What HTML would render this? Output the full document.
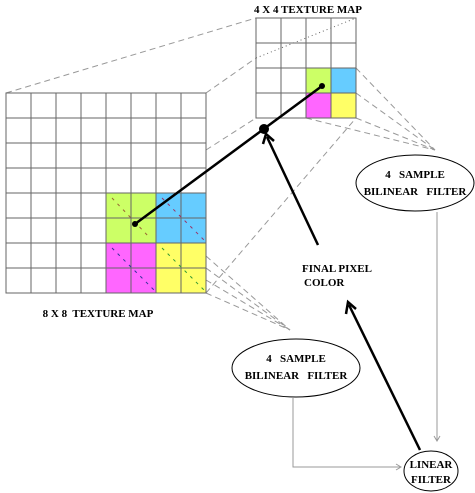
<!DOCTYPE html>
<html><head><meta charset="utf-8"><style>
body{margin:0;background:#fff}
svg{display:block}
text{font-family:"Liberation Serif",serif;font-weight:bold;font-size:11px;fill:#000;white-space:pre}
</style></head><body>
<svg width="475" height="493">
<g stroke="#999" stroke-dasharray="6,4" fill="none">
<line x1="6" y1="93" x2="256" y2="18"/>
<line x1="206" y1="93" x2="256" y2="58"/>
<line x1="206" y1="150" x2="256" y2="118"/>
<line x1="206" y1="293" x2="356" y2="118"/>
<line x1="206" y1="293" x2="290" y2="330"/>
<line x1="206" y1="280" x2="290" y2="330"/>
<line x1="206" y1="268" x2="290" y2="330"/>
<line x1="206" y1="256" x2="290" y2="330"/>
<line x1="356" y1="68" x2="435" y2="150"/>
<line x1="356" y1="93" x2="435" y2="150"/>
<line x1="356" y1="118" x2="435" y2="150"/>
<line x1="306" y1="118" x2="435" y2="150"/>
</g>
<line x1="256" y1="58" x2="356" y2="18" stroke="#666" stroke-dasharray="1,3"/>
<g>
<rect x="106" y="193" width="50" height="50" fill="#ccff66"/>
<rect x="156" y="193" width="50" height="50" fill="#66ccff"/>
<rect x="106" y="243" width="50" height="50" fill="#ff66ff"/>
<rect x="156" y="243" width="50" height="50" fill="#ffff66"/>
<g stroke="#666" fill="none">
<rect x="6" y="93" width="200" height="200"/>
<path d="M31 93V293M56 93V293M81 93V293M106 93V293M131 93V293M156 93V293M181 93V293M6 118H206M6 143H206M6 168H206M6 193H206M6 218H206M6 243H206M6 268H206"/>
</g>
<g stroke-dasharray="3,5" fill="none">
<line x1="112" y1="198" x2="150" y2="238" stroke="#996633"/>
<line x1="162" y1="198" x2="204" y2="240" stroke="#993366"/>
<line x1="112" y1="248" x2="154" y2="290" stroke="#333399"/>
<line x1="162" y1="248" x2="204" y2="290" stroke="#339933"/>
</g>
</g>
<g>
<rect x="306" y="68" width="25" height="25" fill="#ccff66"/>
<rect x="331" y="68" width="25" height="25" fill="#66ccff"/>
<rect x="306" y="93" width="25" height="25" fill="#ff66ff"/>
<rect x="331" y="93" width="25" height="25" fill="#ffff66"/>
<g stroke="#666" fill="none">
<rect x="256" y="18" width="100" height="100"/>
<path d="M281 18V118M306 18V118M331 18V118M256 43H356M256 68H356M256 93H356"/>
</g>
</g>
<text x="98" y="317" text-anchor="middle">8 X 8  TEXTURE MAP</text>
<text x="308" y="13" text-anchor="middle">4 X 4 TEXTURE MAP</text>
<g stroke="#000" stroke-width="2.5" fill="none">
<line x1="135" y1="224" x2="322" y2="86"/>
<line x1="318" y1="245" x2="267" y2="137"/>
<path d="M263 144 L266 134 L274 141"/>
<line x1="420" y1="450" x2="349" y2="305"/>
<path d="M346 314 L348 302 L356 309"/>
</g>
<circle cx="135" cy="224" r="3"/>
<circle cx="322" cy="86" r="3"/>
<circle cx="264" cy="129" r="5"/>
<text x="302" y="272">FINAL PIXEL</text>
<text x="304" y="286">COLOR</text>
<g stroke="#999" fill="none">
<path d="M437 212V440"/><path d="M434 436L437 441L440 436"/>
<path d="M293 398V467H400"/><path d="M396 464L401 467L396 470"/>
</g>
<g>
<ellipse cx="415" cy="183" rx="59" ry="28" fill="#fff" stroke="#000"/>
<text x="415" y="178" text-anchor="middle">4   SAMPLE</text>
<text x="415" y="195" text-anchor="middle">BILINEAR   FILTER</text>
</g>
<g>
<ellipse cx="296" cy="368" rx="64" ry="29" fill="#fff" stroke="#000"/>
<text x="296" y="362" text-anchor="middle">4   SAMPLE</text>
<text x="296" y="379" text-anchor="middle">BILINEAR   FILTER</text>
</g>
<g>
<ellipse cx="431" cy="471" rx="27" ry="20" fill="#fff" stroke="#000"/>
<text x="431" y="468" text-anchor="middle">LINEAR</text>
<text x="431" y="483" text-anchor="middle">FILTER</text>
</g>
</svg>
</body></html>
